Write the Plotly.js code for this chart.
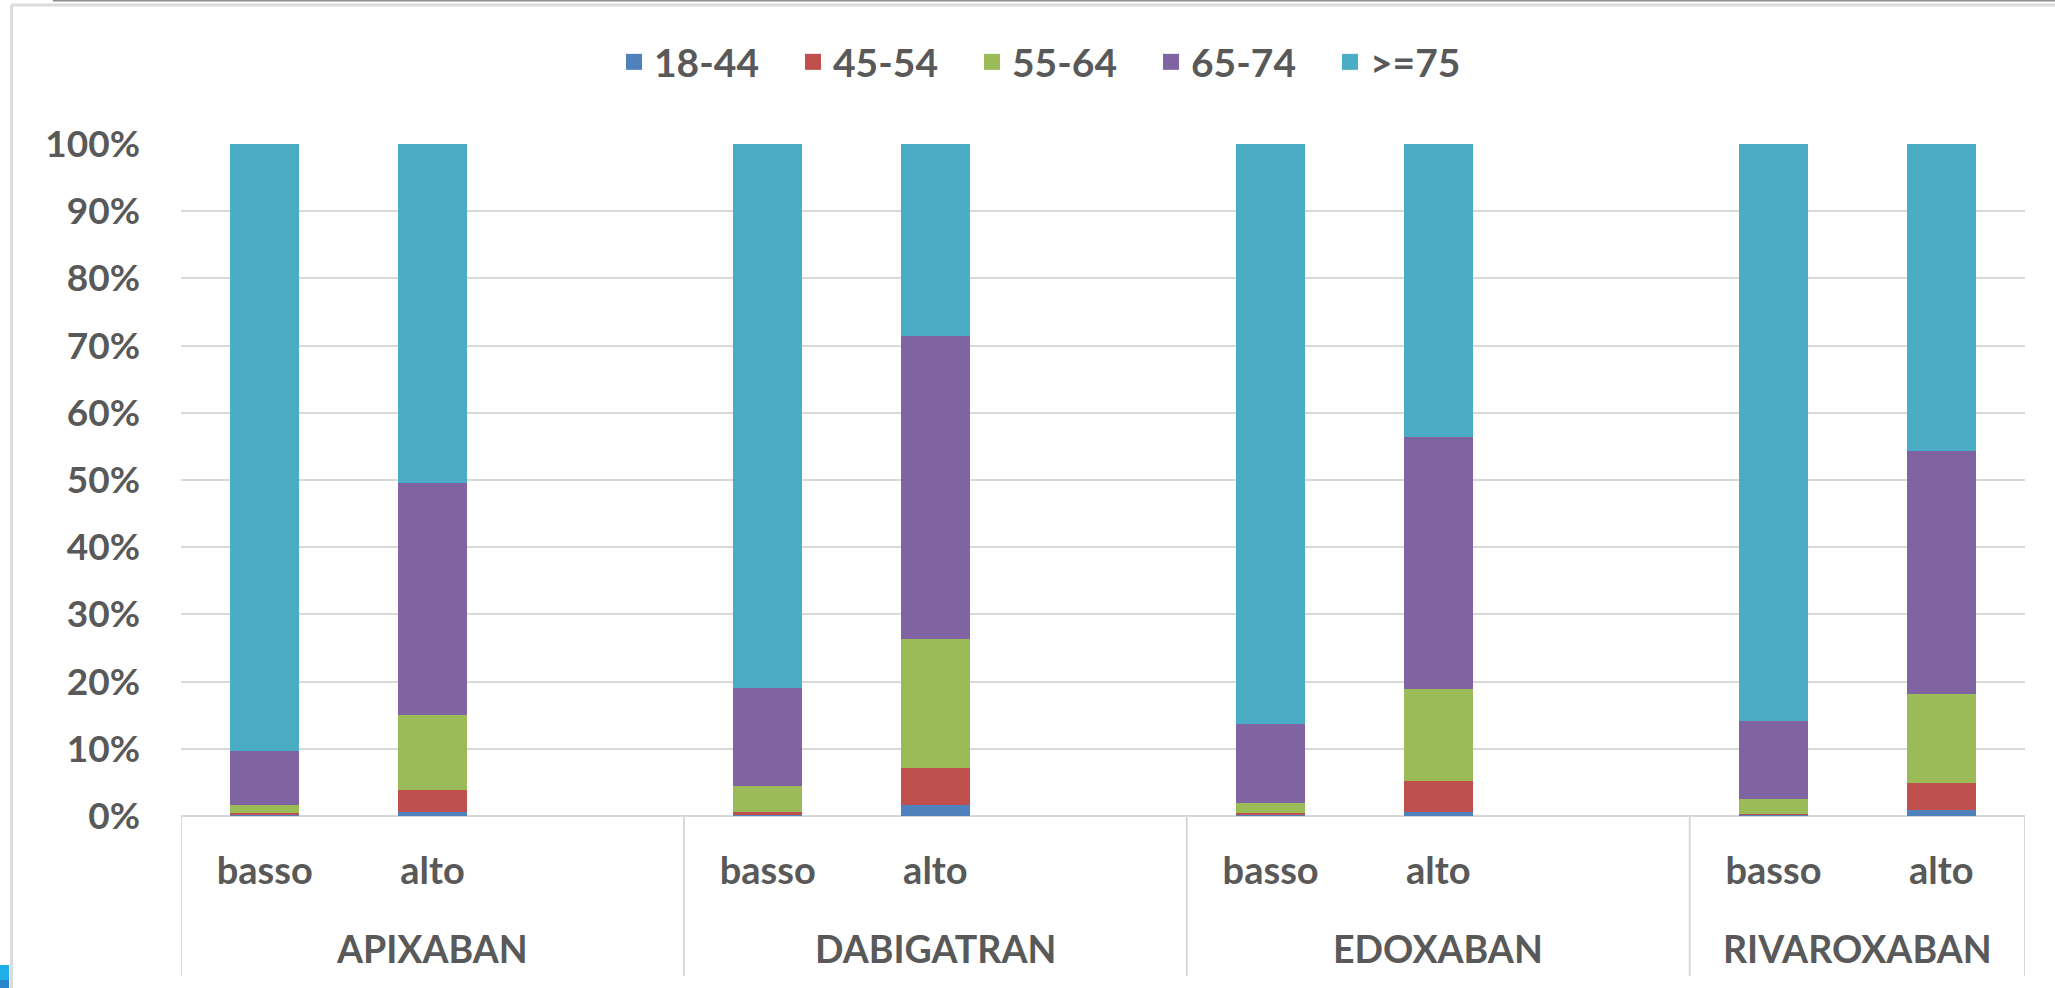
<!DOCTYPE html>
<html>
<head>
<meta charset="utf-8">
<script src="https://cdn.plot.ly/plotly-3.0.1.min.js"></script>
<style>html,body{margin:0;padding:0;background:#fff;}#chart{width:2055px;height:988px;}</style>
</head>
<body>
<div id="chart"></div>
<script>
// ---- data ----
const groups = ['APIXABAN', 'DABIGATRAN', 'EDOXABAN', 'RIVAROXABAN'];
const levels = ['basso', 'alto'];
const ageBands = ['18-44', '45-54', '55-64', '65-74', '>=75'];
// bar order: APIXABAN basso, APIXABAN alto, DABIGATRAN basso, DABIGATRAN alto,
//            EDOXABAN basso, EDOXABAN alto, RIVAROXABAN basso, RIVAROXABAN alto
const s18_44 = [0.1, 0.6, 0.1, 1.7, 0.1, 0.6, 0.1, 0.9];
const s45_54 = [0.3, 3.3, 0.5, 5.5, 0.3, 4.6, 0.25, 4.0];
const s55_64 = [1.3, 11.1, 3.8, 19.2, 1.5, 13.7, 2.15, 13.3];
const s65_74 = [8.0, 34.6, 14.6, 45.0, 11.8, 37.5, 11.7, 36.1];
const s75plus = [90.3, 50.4, 81.0, 28.6, 86.3, 43.6, 85.8, 45.7];
const seriesValues = [s18_44, s45_54, s55_64, s65_74, s75plus];
const yTickVals = [0, 10, 20, 30, 40, 50, 60, 70, 80, 90, 100];
const yTickLabels = ['0%', '10%', '20%', '30%', '40%', '50%', '60%', '70%', '80%', '90%', '100%'];

// ---- styles ----
const colors = ['#4F81BD', '#C0504D', '#9BBB59', '#8064A2', '#4BACC6'];
const FONT = 'Lato, "Open Sans", sans-serif';
const TXT = '#595959';
const GRID = '#D9D9D9';
const W = 2055, H = 988;
const M = {l: 181, r: 30, t: 144, b: 172};
const PW = W - M.l - M.r, PH = H - M.t - M.b;

// positions: each group has one slot per level plus one empty slot (last group without)
const slots = levels.length + 1;
const xs = [], tickText = [];
groups.forEach((g, gi) => levels.forEach((lv, li) => { xs.push(gi * slots + li); tickText.push(lv); }));
const xMin = -0.5, xMax = (groups.length - 1) * slots + levels.length - 0.5;

const traces = ageBands.map((name, i) => ({
  type: 'bar', name: name, x: xs, y: seriesValues[i],
  legendgroup: name, showlegend: false,
  marker: {color: colors[i], line: {width: 0}},
  width: 0.41,
  hovertemplate: '%{y}%<extra>' + name + '</extra>'
}));
// legend entries with larger square swatches
ageBands.forEach((name, i) => traces.push({
  type: 'scatter', mode: 'markers', name: name, legendgroup: name,
  x: [null], y: [null], showlegend: true,
  marker: {symbol: 'square', size: 16, color: colors[i]}
}));

// group dividers and labels (in data coordinates)
const dividers = [];
const annotations = [];
groups.forEach((g, gi) => {
  const start = gi * slots - 0.5;
  const end = gi === groups.length - 1 ? xMax : start + slots;
  dividers.push(start);
  annotations.push({
    x: (start + end) / 2, xref: 'x', y: (816 - 948) / PH, yref: 'paper',
    text: g, showarrow: false, xanchor: 'center', yanchor: 'middle',
    font: {family: FONT, size: 37.5, color: TXT, weight: 'bold'}
  });
});
dividers.push(xMax);

const px2x = px => (px - M.l) / PW;
const py2y = py => (H - M.b - py) / PH;

const shapes = dividers.map(d => ({
  type: 'line', xref: 'x', yref: 'paper', x0: d, x1: d, y0: 0, y1: py2y(976),
  line: {color: GRID, width: 2}
}));
// chart frame / screenshot edges
shapes.push({type: 'line', xref: 'paper', yref: 'paper', x0: px2x(11.5), x1: px2x(11.5), y0: py2y(5), y1: py2y(990), line: {color: '#DCDCDC', width: 3}});
shapes.push({type: 'line', xref: 'paper', yref: 'paper', x0: px2x(11.5), x1: px2x(2056), y0: py2y(5), y1: py2y(5), line: {color: '#DCDCDC', width: 3}});
shapes.push({type: 'line', xref: 'paper', yref: 'paper', x0: px2x(53), x1: px2x(2056), y0: py2y(0.8), y1: py2y(0.8), line: {color: '#8C8C8C', width: 1.6}});
shapes.push({type: 'rect', xref: 'paper', yref: 'paper', x0: px2x(0), x1: px2x(9), y0: py2y(965), y1: py2y(980), line: {width: 0}, fillcolor: '#1EAEE8'});
shapes.push({type: 'rect', xref: 'paper', yref: 'paper', x0: px2x(0), x1: px2x(9), y0: py2y(980), y1: py2y(990), line: {width: 0}, fillcolor: '#2A86C8'});

const layout = {
  width: W, height: H,
  margin: M,
  paper_bgcolor: '#FFFFFF', plot_bgcolor: '#FFFFFF',
  barmode: 'stack',
  font: {family: FONT, color: TXT, size: 37, weight: 'bold'},
  showlegend: true,
  legend: {
    orientation: 'h', traceorder: 'normal',
    xref: 'container', yref: 'container', x: 614 / W, xanchor: 'left',
    y: 1 - 62 / H, yanchor: 'middle',
    entrywidth: 134, entrywidthmode: 'pixels',
    font: {family: FONT, size: 39, color: TXT, weight: 'bold'},
    bgcolor: 'rgba(0,0,0,0)'
  },
  xaxis: {
    type: 'linear', range: [xMin, xMax], fixedrange: true,
    tickmode: 'array', tickvals: xs, ticktext: tickText,
    showgrid: false, zeroline: false, showline: false, ticks: '',
    ticklabelstandoff: 29,
    tickfont: {family: FONT, size: 38, color: TXT, weight: 'bold'}
  },
  yaxis: {
    range: [0, 100], fixedrange: true,
    tickmode: 'array', tickvals: yTickVals, ticktext: yTickLabels,
    showgrid: true, gridcolor: GRID, gridwidth: 2,
    zeroline: true, zerolinecolor: GRID, zerolinewidth: 2,
    showline: false, ticks: '',
    ticklabelstandoff: 40,
    tickfont: {family: FONT, size: 37, color: TXT, weight: 'bold'}
  },
  shapes: shapes,
  annotations: annotations
};

Plotly.newPlot('chart', traces, layout, {displayModeBar: false, staticPlot: true});
</script>
</body>
</html>
